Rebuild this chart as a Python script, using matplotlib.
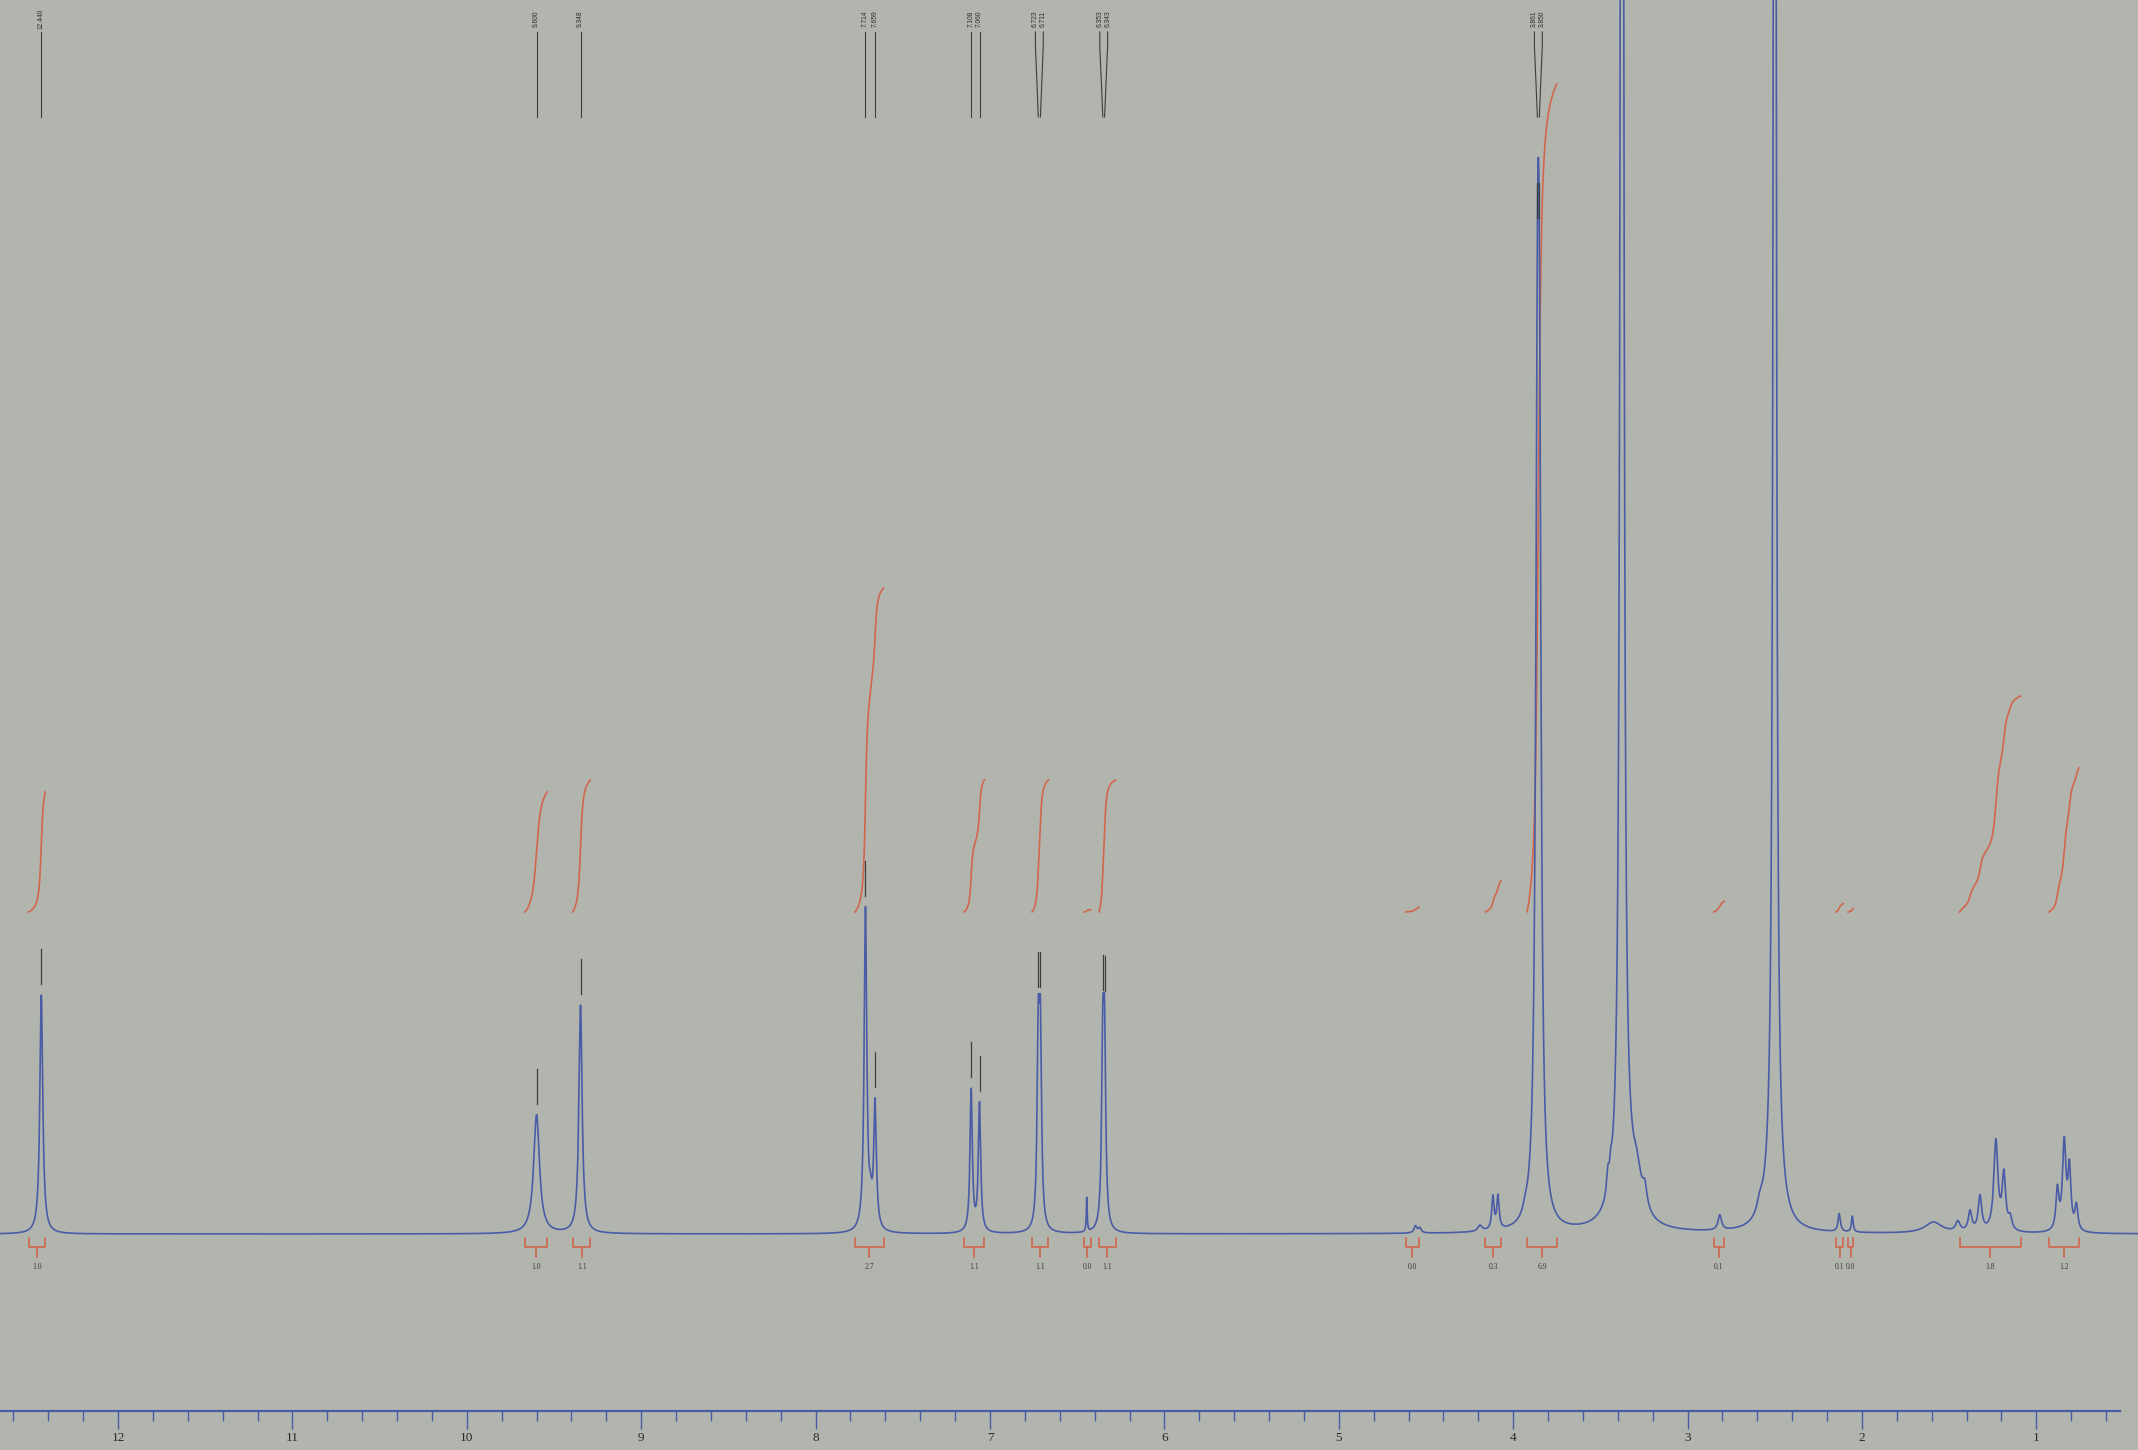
import numpy as np
import matplotlib
matplotlib.use("Agg")
import matplotlib.pyplot as plt
from matplotlib.ticker import MultipleLocator, FormatStrFormatter

# 1H NMR spectrum (DMSO-d6), intensities in plot units above the baseline
peak_ppm = [12.440, 9.600, 9.348, 7.714, 7.685, 7.659, 7.108, 7.060,
            6.723, 6.711, 6.445, 6.353, 6.343,
            4.560, 4.535, 4.190, 4.116, 4.087, 3.930, 3.861, 3.850,
            3.457, 3.440, 3.376, 3.350, 3.290, 3.245,
            2.815, 2.585, 2.500, 2.500, 2.130, 2.055, 1.590,
            1.450, 1.380, 1.323, 1.232, 1.186, 1.150,
            0.879, 0.840, 0.810, 0.770]
peak_height = [239, 119, 228, 322, 20, 125, 142, 128,
               180, 180, 34, 167, 167,
               7, 5, 6, 33, 33, 6, 650, 650,
               20, 15, 3000, 40, 30, 20,
               15, 12, 3000, 60, 18, 16, 11,
               10, 20, 35, 90, 55, 12,
               40, 88, 60, 25]
peak_width = [0.010, 0.020, 0.011, 0.009, 0.010, 0.009, 0.008, 0.008,
              0.008, 0.008, 0.003, 0.008, 0.008,
              0.010, 0.010, 0.015, 0.008, 0.008, 0.015, 0.012, 0.012,
              0.008, 0.008, 0.0084, 0.070, 0.030, 0.015,
              0.012, 0.020, 0.007, 0.040, 0.008, 0.006, 0.060,
              0.015, 0.012, 0.012, 0.014, 0.012, 0.012,
              0.010, 0.012, 0.010, 0.010]

# picked peaks printed along the top
pick_ppm = [12.440, 9.600, 9.348, 7.714, 7.659, 7.108, 7.060,
            6.723, 6.711, 6.353, 6.343, 3.861, 3.850]

# integration regions (from, to) and integrals
int_from = [12.513, 9.667, 9.393, 7.774, 7.149, 6.759, 6.461, 6.375,
            4.616, 4.160, 3.920, 2.850, 2.150, 2.080, 1.440, 0.930]
int_to = [12.418, 9.540, 9.291, 7.610, 7.032, 6.665, 6.422, 6.280,
          4.540, 4.070, 3.750, 2.790, 2.106, 2.050, 1.090, 0.755]
int_value = [1.0, 1.0, 1.1, 2.7, 1.1, 1.1, 0.02, 1.1,
             0.04, 0.26, 6.9, 0.09, 0.07, 0.03, 1.8, 1.2]

bg = "#b2b5ad"
blue = "#4a5ca6"
red = "#d2664e"
grey = "#3c3e40"

x = np.linspace(0.40, 12.70, 40000)
y = np.zeros_like(x)
for p, h, w in zip(peak_ppm, peak_height, peak_width):
    y += h / (1.0 + ((x - p) / w) ** 2)


def spec(p):
    return np.interp(p, x, y)


fig = plt.figure(figsize=(21.38, 14.5), dpi=100)
fig.patch.set_facecolor(bg)
ax = fig.add_axes([0, 0, 1, 1])
ax.set_facecolor(bg)
ax.set_xlim(12.677, 0.417)
ax.set_ylim(-216, 1234)

ax.plot(x, y, color=blue, lw=1.2, zorder=3)

# integral curves and brackets
unit = 120
int_base = 322
for a, b, v in zip(int_from, int_to, int_value):
    m = (x <= a) & (x >= b)
    xs = x[m][::-1]
    cum = np.cumsum(y[m][::-1])
    cum = cum / cum[-1]
    ax.plot(xs, int_base + cum * v * unit, color=red, lw=1.2, zorder=2)

    ax.plot([a, a, b, b], [-4, -13, -13, -4], color=red, lw=1.2)
    c = (a + b) / 2
    ax.plot([c, c], [-13, -23], color=red, lw=1.2)
    ax.text(c, -33, f"{v:.1f}", ha="center", va="center", fontsize=5.5,
            family="Liberation Serif", color="#3a3a3a")

# peak labels: spread texts so neighbours do not overlap
min_gap = 0.045
pos = list(pick_ppm)
i = 0
while i < len(pos):
    j = i
    while j + 1 < len(pos) and pick_ppm[j] - pick_ppm[j + 1] < min_gap:
        j += 1
    if j > i:
        c = np.mean(pick_ppm[i:j + 1])
        n = j - i + 1
        for k in range(n):
            pos[i + k] = c + (n - 1) / 2 * min_gap - k * min_gap
    i = j + 1

for p, t in zip(pick_ppm, pos):
    ax.text(t, 1215, f"{p:.3f}", rotation=90, ha="center", va="center",
            fontsize=4.8, family="Liberation Sans", color="#2e2e2e")
    ax.plot([t, t, p], [1202, 1188, 1117], color=grey, lw=0.8)
    top = spec(p)
    if top < 1050:
        ax.plot([p, p], [top + 11, top + 46], color=grey, lw=0.9, zorder=4)

# ppm axis
for s in ["top", "left", "right"]:
    ax.spines[s].set_visible(False)
ax.spines["bottom"].set_position(("data", -177))
ax.spines["bottom"].set_color(blue)
ax.spines["bottom"].set_linewidth(1.6)
ax.spines["bottom"].set_bounds(12.677, 0.52)
ax.xaxis.set_major_locator(MultipleLocator(1))
ax.xaxis.set_minor_locator(MultipleLocator(0.2))
ax.xaxis.set_major_formatter(FormatStrFormatter("%d"))
ax.tick_params(axis="x", which="major", direction="out", length=13, width=1,
               color=blue, labelsize=9.5, pad=2, labelcolor="#2a2a2a")
ax.tick_params(axis="x", which="minor", direction="out", length=7, width=1,
               color=blue)
for lab in ax.get_xticklabels():
    lab.set_family("Liberation Serif")
ax.set_yticks([])

fig.savefig("out.png", dpi=100, facecolor=bg)
